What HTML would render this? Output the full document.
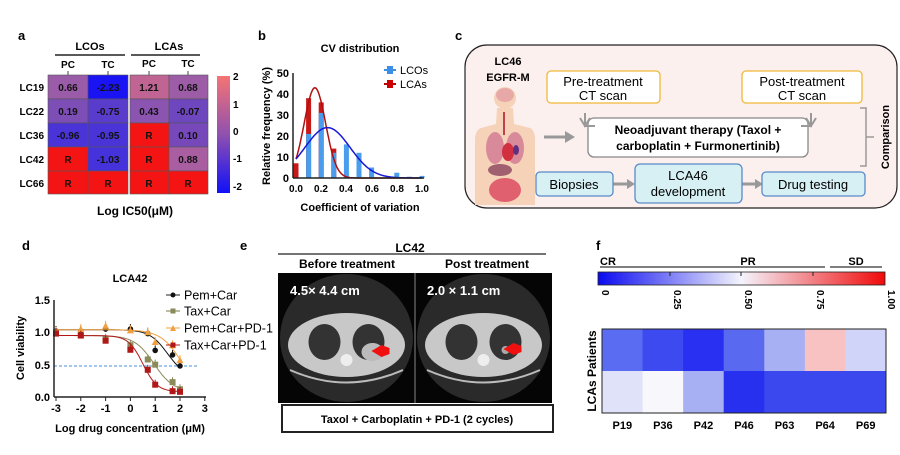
<!DOCTYPE html>
<html><head><meta charset="utf-8"><style>
html,body{margin:0;padding:0;background:#fff;}
svg{display:block;font-family:"Liberation Sans",Arial,sans-serif;}
.b{font-weight:bold;}
</style></head><body>
<svg id="s" width="900" height="455" viewBox="0 0 900 455" xmlns="http://www.w3.org/2000/svg">
<!-- Panel a -->
<text x="18" y="40" font-size="13" class="b">a</text>
<text x="90" y="50" font-size="11" class="b" text-anchor="middle">LCOs</text>
<line x1="55" y1="55" x2="125" y2="55" stroke="#222" stroke-width="1.5"/>
<text x="169" y="50" font-size="11" class="b" text-anchor="middle">LCAs</text>
<line x1="131" y1="55" x2="200" y2="55" stroke="#222" stroke-width="1.5"/>
<g font-size="10" class="b" text-anchor="middle">
<text x="68" y="68">PC</text><text x="108" y="68">TC</text><text x="149" y="67">PC</text><text x="188" y="67">TC</text>
</g>
<g stroke="#444" stroke-width="1"><line x1="68" y1="71" x2="68" y2="75"/><line x1="108" y1="71" x2="108" y2="75"/><line x1="149" y1="71" x2="149" y2="75"/><line x1="188" y1="71" x2="188" y2="75"/></g>
<g stroke="#555" stroke-width="0.6">
<rect x="48" y="75" width="40" height="24" fill="#9a5ca8"/><rect x="88" y="75" width="40" height="24" fill="#1a14f4"/>
<rect x="130" y="75" width="39" height="24" fill="#c06494"/><rect x="169" y="75" width="39" height="24" fill="#9c5ca6"/>
<rect x="48" y="99" width="40" height="24" fill="#7c4eb6"/><rect x="88" y="99" width="40" height="24" fill="#5a3ccc"/>
<rect x="130" y="99" width="39" height="24" fill="#8a54b0"/><rect x="169" y="99" width="39" height="24" fill="#6e46be"/>
<rect x="48" y="123" width="40" height="24" fill="#4a34d8"/><rect x="88" y="123" width="40" height="24" fill="#4a34d8"/>
<rect x="130" y="123" width="39" height="24" fill="#f41414"/><rect x="169" y="123" width="39" height="24" fill="#7648ba"/>
<rect x="48" y="147" width="40" height="24" fill="#f41414"/><rect x="88" y="147" width="40" height="24" fill="#4632da"/>
<rect x="130" y="147" width="39" height="24" fill="#f41414"/><rect x="169" y="147" width="39" height="24" fill="#a85ea0"/>
<rect x="48" y="171" width="40" height="23" fill="#f41414"/><rect x="88" y="171" width="40" height="23" fill="#f41414"/>
<rect x="130" y="171" width="39" height="23" fill="#f41414"/><rect x="169" y="171" width="39" height="23" fill="#f41414"/>
</g>
<g font-size="10" class="b" text-anchor="middle" fill="#111">
<text x="68" y="91">0.66</text><text x="108" y="91">-2.23</text><text x="149" y="91">1.21</text><text x="188" y="91">0.68</text>
<text x="68" y="115">0.19</text><text x="108" y="115">-0.75</text><text x="149" y="115">0.43</text><text x="188" y="115">-0.07</text>
<text x="68" y="139">-0.96</text><text x="108" y="139">-0.95</text><text x="149" y="139">R</text><text x="188" y="139">0.10</text>
<text x="68" y="163">R</text><text x="108" y="163">-1.03</text><text x="149" y="163">R</text><text x="188" y="163">0.88</text>
<text x="68" y="187">R</text><text x="108" y="187">R</text><text x="149" y="187">R</text><text x="188" y="187">R</text>
</g>
<g font-size="10" class="b" text-anchor="end">
<text x="44" y="91">LC19</text><text x="44" y="115">LC22</text><text x="44" y="139">LC36</text><text x="44" y="163">LC42</text><text x="44" y="187">LC66</text>
</g>
<defs>
<linearGradient id="cba" x1="0" y1="0" x2="0" y2="1"><stop offset="0" stop-color="#f47474"/><stop offset="0.5" stop-color="#9050b0"/><stop offset="1" stop-color="#1010f8"/></linearGradient>
<linearGradient id="cbf" x1="0" y1="0" x2="1" y2="0"><stop offset="0" stop-color="#0a0af0"/><stop offset="0.5" stop-color="#f4f4fc"/><stop offset="1" stop-color="#f00a0a"/></linearGradient>
</defs>
<rect x="217" y="76" width="13" height="117" fill="url(#cba)"/>
<g font-size="10" class="b"><text x="233" y="80">2</text><text x="233" y="108">1</text><text x="233" y="135">0</text><text x="233" y="162">-1</text><text x="233" y="190">-2</text></g>
<text x="135" y="215" font-size="12" class="b" text-anchor="middle">Log IC50(μM)</text>

<!-- Panel b -->
<text x="258" y="40" font-size="13" class="b">b</text>
<text x="360" y="52" font-size="11" class="b" text-anchor="middle">CV distribution</text>
<g id="bars"></g>
<line x1="293" y1="73" x2="293" y2="178" stroke="#222" stroke-width="1.5"/>
<line x1="293" y1="178" x2="424" y2="178" stroke="#222" stroke-width="1.5"/>
<g font-size="11" class="b" text-anchor="end">
<text x="289" y="182">0</text><text x="289" y="161">10</text><text x="289" y="140">20</text><text x="289" y="119">30</text><text x="289" y="98">40</text><text x="289" y="77">50</text>
</g>
<g font-size="10" class="b" text-anchor="middle">
<text x="296" y="192">0.0</text><text x="321" y="192">0.2</text><text x="346" y="192">0.4</text><text x="372" y="192">0.6</text><text x="397" y="192">0.8</text><text x="422" y="192">1.0</text>
</g>
<text transform="translate(270,126) rotate(-90)" font-size="11" class="b" text-anchor="middle">Relative frequency (%)</text>
<text x="360" y="211" font-size="11" class="b" text-anchor="middle">Coefficient of variation</text>
<line x1="384" y1="70" x2="396" y2="70" stroke="#3b8fe8" stroke-width="2"/><rect x="387" y="66" width="6" height="8" fill="#3b8fe8"/>
<text x="400" y="74" font-size="11">LCOs</text>
<line x1="384" y1="84" x2="396" y2="84" stroke="#b00" stroke-width="2"/><rect x="387" y="80" width="6" height="8" fill="#c00"/>
<text x="400" y="88" font-size="11">LCAs</text>

<!-- Panel c -->
<text x="455" y="40" font-size="13" class="b">c</text>
<rect x="465" y="45" width="432" height="163" rx="22" fill="#fcf0ef" stroke="#222" stroke-width="1.2"/>
<text x="508" y="65" font-size="11" class="b" text-anchor="middle">LC46</text>
<text x="508" y="81" font-size="11" class="b" text-anchor="middle">EGFR-M</text>
<path d="M497 108 L513 108 L514 124 L530 128 Q535 130 535 140 L535 205 L475 205 L475 140 Q475 130 481 128 L496 124 Z" fill="#f5d2b8"/>
<circle cx="505" cy="98" r="11" fill="#f5d2b8"/>
<ellipse cx="505" cy="95" rx="9" ry="7" fill="#e8a8a8"/>
<ellipse cx="495" cy="148" rx="9" ry="16" fill="#d88a9a"/>
<ellipse cx="515" cy="148" rx="9" ry="16" fill="#d88a9a"/>
<ellipse cx="508" cy="152" rx="6" ry="9" fill="#d03040"/>
<ellipse cx="516" cy="150" rx="3" ry="5" fill="#603080"/>
<ellipse cx="500" cy="170" rx="12" ry="6" fill="#a06070"/>
<ellipse cx="505" cy="190" rx="16" ry="12" fill="#e06070"/>
<line x1="504" y1="112" x2="504" y2="135" stroke="#c04050" stroke-width="2"/>
<rect x="547" y="71" width="113" height="32" rx="4" fill="#fff" stroke="#f0b838" stroke-width="1.3"/>
<text x="603" y="86" font-size="13" text-anchor="middle">Pre-treatment</text>
<text x="603" y="100" font-size="13" text-anchor="middle">CT scan</text>
<rect x="742" y="71" width="120" height="32" rx="4" fill="#fff" stroke="#f0b838" stroke-width="1.3"/>
<text x="802" y="86" font-size="13" text-anchor="middle">Post-treatment</text>
<text x="802" y="100" font-size="13" text-anchor="middle">CT scan</text>
<rect x="588" y="118" width="220" height="39" rx="6" fill="#fff" stroke="#888" stroke-width="1.3"/>
<text x="698" y="134" font-size="12" class="b" text-anchor="middle">Neoadjuvant therapy (Taxol +</text>
<text x="698" y="150" font-size="12" class="b" text-anchor="middle">carboplatin + Furmonertinib)</text>
<g stroke="#999" stroke-width="2" fill="none">
<path d="M585 113 L585 126 L595 126"/><path d="M580 118 L585 126 L590 118"/>
<path d="M811 113 L811 126 L801 126"/><path d="M806 118 L811 126 L816 118"/>
<line x1="544" y1="137" x2="566" y2="137" stroke-width="3"/>
<line x1="613" y1="184" x2="628" y2="184" stroke-width="3"/>
<line x1="742" y1="184" x2="756" y2="184" stroke-width="3"/>
</g>
<g fill="#999"><path d="M565 131 L575 137 L565 143Z"/><path d="M627 179 L635 184 L627 189Z"/><path d="M755 179 L763 184 L755 189Z"/></g>
<path d="M860 108 L866 108 L866 166 L860 166 M866 137 L874 137" stroke="#999" stroke-width="1.5" fill="none"/>
<text transform="translate(889,137) rotate(-90)" font-size="11" class="b" text-anchor="middle">Comparison</text>
<rect x="536" y="172" width="77" height="24" rx="4" fill="#d6f0f4" stroke="#5a8ac8" stroke-width="1.3"/>
<text x="574" y="189" font-size="13" text-anchor="middle">Biopsies</text>
<rect x="635" y="164" width="107" height="39" rx="5" fill="#d6f0f4" stroke="#5a8ac8" stroke-width="1.3"/>
<text x="688" y="180" font-size="13" text-anchor="middle">LCA46</text>
<text x="688" y="196" font-size="13" text-anchor="middle">development</text>
<rect x="762" y="172" width="103" height="24" rx="4" fill="#d6f0f4" stroke="#5a8ac8" stroke-width="1.3"/>
<text x="813" y="189" font-size="13" text-anchor="middle">Drug testing</text>

<!-- Panel d -->
<text x="22" y="250" font-size="13" class="b">d</text>
<text x="130" y="282" font-size="11" class="b" text-anchor="middle">LCA42</text>
<line x1="54" y1="366" x2="198" y2="366" stroke="#4a90d8" stroke-width="1" stroke-dasharray="3,2"/>
<g id="dcurves"></g>
<line x1="54" y1="300" x2="54" y2="397" stroke="#222" stroke-width="1.5"/>
<line x1="54" y1="397" x2="206" y2="397" stroke="#222" stroke-width="1.5"/>
<g font-size="11" class="b" text-anchor="end">
<text x="50" y="401">0.0</text><text x="50" y="369">0.5</text><text x="50" y="336">1.0</text><text x="50" y="304">1.5</text>
</g>
<g font-size="11" class="b" text-anchor="middle" id="dxt"></g>
<text transform="translate(24,348) rotate(-90)" font-size="11" class="b" text-anchor="middle">Cell viability</text>
<text x="130" y="432" font-size="11" class="b" text-anchor="middle">Log drug concentration (μM)</text>
<g font-size="12.5">
<line x1="166" y1="295" x2="180" y2="295" stroke="#222"/><circle cx="173" cy="295" r="2.5" fill="#111"/><text x="184" y="299.5">Pem+Car</text>
<line x1="166" y1="311" x2="180" y2="311" stroke="#7a7a4a"/><rect x="170.5" y="308.5" width="5" height="5" fill="#8a8a5a"/><text x="184" y="315.5">Tax+Car</text>
<line x1="166" y1="328" x2="180" y2="328" stroke="#f0a040"/><path d="M173 325 L176 331 L170 331Z" fill="#f0a040"/><text x="184" y="332.5">Pem+Car+PD-1</text>
<line x1="166" y1="345" x2="180" y2="345" stroke="#b01818"/><rect x="170.5" y="342.5" width="5" height="5" fill="#b01818"/><text x="184" y="349.5">Tax+Car+PD-1</text>
</g>

<!-- Panel e -->
<text x="240" y="250" font-size="13" class="b">e</text>
<text x="410" y="252" font-size="12" class="b" text-anchor="middle">LC42</text>
<line x1="278" y1="254" x2="546" y2="254" stroke="#222" stroke-width="1.2"/>
<text x="347" y="268" font-size="12" class="b" text-anchor="middle">Before treatment</text>
<text x="487" y="268" font-size="12" class="b" text-anchor="middle">Post treatment</text>
<g id="ct"></g>
<rect x="282" y="405" width="271" height="27" fill="#fff" stroke="#222" stroke-width="2"/>
<text x="417" y="423" font-size="11" class="b" text-anchor="middle">Taxol + Carboplatin + PD-1 (2 cycles)</text>

<!-- Panel f -->
<text x="596" y="250" font-size="13" class="b">f</text>
<text x="600" y="265" font-size="11" class="b">CR</text>
<text x="748" y="265" font-size="11" class="b" text-anchor="middle">PR</text>
<text x="856" y="265" font-size="11" class="b" text-anchor="middle">SD</text>
<line x1="600" y1="267" x2="825" y2="267" stroke="#333" stroke-width="1.3"/>
<line x1="830" y1="267" x2="882" y2="267" stroke="#333" stroke-width="1.3"/>
<rect x="598" y="272" width="287" height="13" fill="url(#cbf)" stroke="#222" stroke-width="0.8"/>
<g stroke="#222"><line x1="670" y1="272" x2="670" y2="276"/><line x1="741" y1="272" x2="741" y2="276"/><line x1="813" y1="272" x2="813" y2="276"/></g>
<g font-size="10" class="b">
<text transform="translate(602,290) rotate(90)">0</text>
<text transform="translate(674,290) rotate(90)">0.25</text>
<text transform="translate(745,290) rotate(90)">0.50</text>
<text transform="translate(817,290) rotate(90)">0.75</text>
<text transform="translate(888,290) rotate(90)">1.00</text>
</g>
<g id="fh"></g>
<rect x="602" y="329" width="284" height="84" fill="none" stroke="#222" stroke-width="1"/>
<text transform="translate(596,371) rotate(-90)" font-size="12" class="b" text-anchor="middle">LCAs Patients</text>
<g font-size="11" class="b" text-anchor="middle" id="fx"></g>
</svg>
<script>
var NS="http://www.w3.org/2000/svg";
function el(p,t,a,txt){var e=document.createElementNS(NS,t);for(var k in a)e.setAttribute(k,a[k]);if(txt!=null)e.textContent=txt;document.getElementById(p).appendChild(e);return e;}
var bx=function(v){return 296+v*126},by=function(f){return 178-f*2.1};
var red=[[0,7],[0.1,38],[0.2,36],[0.3,14]];
red.forEach(function(d){el("bars","rect",{x:bx(d[0])-2.5,y:by(d[1]),width:5,height:d[1]*2.1,fill:"#c81818"})});
var blue=[[0.1,21],[0.2,31],[0.3,12],[0.4,16],[0.5,12],[0.6,5],[0.8,2.5],[0.9,0.6],[1.0,1]];
blue.forEach(function(d){el("bars","rect",{x:bx(d[0])-2.5,y:by(d[1]),width:5,height:d[1]*2.1,fill:"#4a9cec"})});
function gpath(a,m,s){var p="";for(var v=0;v<=1.0001;v+=0.01){var f=a*Math.exp(-(v-m)*(v-m)/(2*s*s));p+=(p?"L":"M")+bx(v).toFixed(1)+" "+by(f).toFixed(1);}return p;}
el("bars","path",{d:gpath(43,0.15,0.085),stroke:"#b01010","stroke-width":1.5,fill:"none"});
el("bars","path",{d:gpath(24,0.25,0.179),stroke:"#1818d8","stroke-width":1.5,fill:"none"});
var dx=function(v){return 56+(v+3)*24.8},dy=function(v){return 397-v*64.7};
for(var i=-3;i<=3;i++){el("dxt","text",{x:dx(i),y:412},String(i));el("dxt","line",{x1:dx(i),y1:397,x2:dx(i),y2:401,stroke:"#222"});}
var X=[-3,-2,-1,0,0.7,1,1.7,2];
var S=[
{c:"#111",t:1.04,b:0.3,e:1.5,h:1.2,p:[1.02,1.02,1.05,1.05,0.98,0.72,0.65,0.48],m:"c"},
{c:"#8a8a5a",t:0.95,b:0.08,e:0.95,h:1.1,p:[1.0,0.95,0.9,0.8,0.58,0.5,0.23,0.12],m:"s"},
{c:"#f0a040",t:1.04,b:0,e:2.1,h:1,p:[1.0,1.05,1.1,1.03,1.0,0.85,0.8,0.57],m:"t"},
{c:"#b01818",t:0.95,b:0.08,e:0.5,h:1.5,p:[0.98,0.95,0.87,0.73,0.42,0.19,0.09,0.08],m:"s"}];
S.forEach(function(s){var p="";for(var v=-3;v<=2.001;v+=0.05){var y=s.b+(s.t-s.b)/(1+Math.pow(10,(v-s.e)*s.h));p+=(p?"L":"M")+dx(v).toFixed(1)+" "+dy(y).toFixed(1);}
el("dcurves","path",{d:p,stroke:s.c,"stroke-width":1,fill:"none"});
s.p.forEach(function(y,i){var x=dx(X[i]),yy=dy(y);
el("dcurves","line",{x1:x,y1:yy-5,x2:x,y2:yy,stroke:s.c,"stroke-width":1});
if(s.m=="c")el("dcurves","circle",{cx:x,cy:yy,r:2.8,fill:s.c});
else if(s.m=="s")el("dcurves","rect",{x:x-3,y:yy-3,width:6,height:6,fill:s.c});
else el("dcurves","path",{d:"M"+x+" "+(yy-3.5)+"L"+(x+3.5)+" "+(yy+3)+"L"+(x-3.5)+" "+(yy+3)+"Z",fill:s.c});});});
function ct(x0,w,after){
el("ct","rect",{x:x0,y:273,width:w,height:130,fill:"#050505"});
el("ct","ellipse",{cx:x0+w/2,cy:338,rx:w/2-2,ry:64,fill:"#2a2a2a"});
el("ct","ellipse",{cx:x0+w/2,cy:345,rx:w/2-10,ry:32,fill:"#c8c8c8"});
el("ct","path",{d:"M"+(x0+12)+" 370 Q"+(x0+w/2)+" 395 "+(x0+w-12)+" 370",stroke:"#bbb","stroke-width":2,fill:"none"});
el("ct","ellipse",{cx:x0+w/2-22,cy:342,rx:16,ry:18,fill:"#333"});
el("ct","ellipse",{cx:x0+w/2+22,cy:342,rx:16,ry:18,fill:"#333"});
el("ct","circle",{cx:x0+w/2,cy:360,r:6,fill:"#eee"});
if(!after)el("ct","ellipse",{cx:x0+w/2+26,cy:352,rx:11,ry:9,fill:"#bbb"});
else el("ct","circle",{cx:x0+w/2+22,cy:350,r:4,fill:"#aaa"});
var ax=x0+w/2+(after?30:35),ay=(after?349:351);
el("ct","path",{d:"M"+ax+" "+(ay-6)+"L"+(ax-10)+" "+ay+"L"+ax+" "+(ay+6)+"L"+(ax+8)+" "+(ay+3)+"L"+(ax+8)+" "+(ay-3)+"Z",fill:"#f01010"});
}
ct(278,137,false);ct(415,137,true);
el("ct","line",{x1:415,y1:273,x2:415,y2:403,stroke:"#888","stroke-width":1});
el("ct","text",{x:290,y:295,"font-size":13,"font-weight":"bold",fill:"#fff"},"4.5× 4.4 cm");
el("ct","text",{x:427,y:295,"font-size":13,"font-weight":"bold",fill:"#fff"},"2.0 × 1.1 cm");
var r1=["#5a6cf2","#3c4af0","#2a30f2","#5a6af0","#a8b0f4","#f8c2c2","#d0d4f8"];
var r2=["#e0e2fa","#f8f8fc","#a8b0f4","#2830f0","#3a48ee","#3a48ee","#3a48ee"];
var names=["P19","P36","P42","P46","P63","P64","P69"];
var cw=284/7;
for(var i=0;i<7;i++){el("fh","rect",{x:602+i*cw,y:329,width:cw+0.5,height:42,fill:r1[i]});el("fh","rect",{x:602+i*cw,y:371,width:cw+0.5,height:42,fill:r2[i]});
el("fx","text",{x:602+cw*(i+0.5),y:429},names[i]);}
</script>
</body></html>
